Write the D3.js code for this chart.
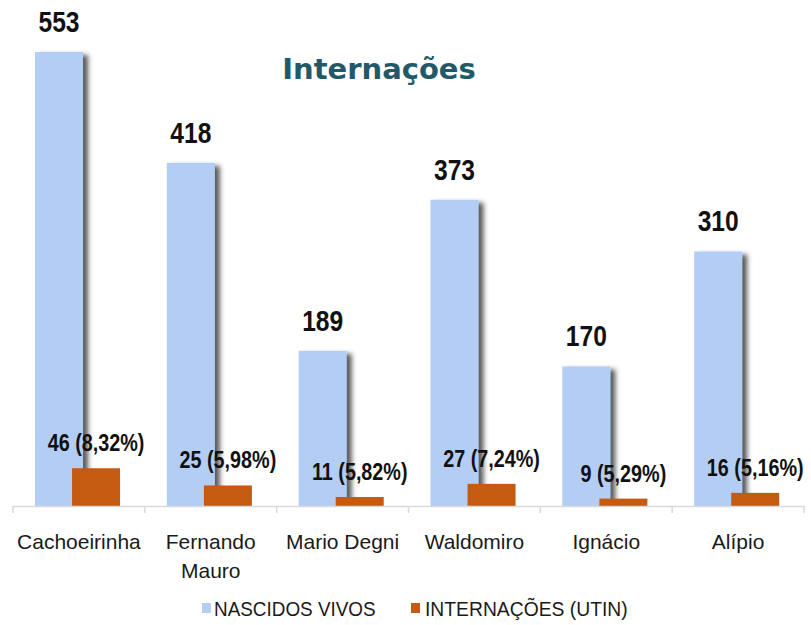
<!DOCTYPE html>
<html>
<head>
<meta charset="utf-8">
<script src="https://cdn.jsdelivr.net/npm/d3@7"></script>
<style>
  body { margin: 0; background: #fff; }
  svg { display: block; }
</style>
</head>
<body>
<div id="chart"></div>
<script>
const categories = ["Cachoeirinha", "Fernando Mauro", "Mario Degni", "Waldomiro", "Ignácio", "Alípio"];
const nascidos = [553, 418, 189, 373, 170, 310];
const internacoes = [46, 25, 11, 27, 9, 16];
const seriesNames = ["NASCIDOS VIVOS", "INTERNAÇÕES (UTIN)"];

const w = 811;
const h = 625;

const blue = "#b3cdf5";
const orange = "#c55a11";
const arial = "'Liberation Sans', Arial, sans-serif";

const svg = d3.select("#chart")
  .append("svg")
  .attr("width", w)
  .attr("height", h);

// soft shadow on the blue bars
const defs = svg.append("defs");
const f = defs.append("filter").attr("id", "shadow")
  .attr("x", "-20%").attr("y", "-5%").attr("width", "160%").attr("height", "110%");
f.append("feDropShadow")
  .attr("dx", 5).attr("dy", 3).attr("stdDeviation", 2.5)
  .attr("flood-color", "#333").attr("flood-opacity", 0.8);

const x = d3.scaleBand()
  .domain(categories)
  .range([13, 804])
  .padding(0);

const y = d3.scaleLinear()
  .domain([0, 553])
  .range([506, 52]);

const bw = x.bandwidth();
const barW = bw * 0.364;
const blueOff = bw * 0.167;
const orangeOff = bw * 0.448;

const pctFormat = d3.format(".2f");

const rows = categories.map((c, i) => ({
  cat: c,
  nv: nascidos[i],
  int: internacoes[i],
  pct: pctFormat(internacoes[i] / nascidos[i] * 100).replace(".", ",") + "%"
}));

// blue bars
svg.selectAll(".nv")
  .data(rows)
  .enter()
  .append("rect")
  .attr("class", "nv")
  .attr("x", d => x(d.cat) + blueOff)
  .attr("y", d => y(d.nv))
  .attr("width", barW)
  .attr("height", d => y(0) - y(d.nv))
  .attr("fill", blue)
  .attr("filter", "url(#shadow)");

// white strip to cut the shadow under the baseline
svg.append("rect")
  .attr("x", 0).attr("y", y(0))
  .attr("width", w).attr("height", 8)
  .attr("fill", "#fff");

// orange bars
svg.selectAll(".int")
  .data(rows)
  .enter()
  .append("rect")
  .attr("class", "int")
  .attr("x", d => x(d.cat) + orangeOff)
  .attr("y", d => y(d.int))
  .attr("width", barW)
  .attr("height", d => y(0) - y(d.int))
  .attr("fill", orange);

// axis
const axis = svg.append("g")
  .attr("transform", "translate(0," + y(0) + ")")
  .call(d3.axisBottom(x).tickSize(0).tickFormat(""));
axis.select(".domain").attr("stroke", "#d9d9d9").attr("stroke-width", 1.5);
axis.selectAll(".tick").remove();

const bounds = categories.map(c => x(c)).concat([x.range()[1]]);
svg.selectAll(".sep")
  .data(bounds)
  .enter()
  .append("line")
  .attr("x1", d => d).attr("x2", d => d)
  .attr("y1", y(0)).attr("y2", y(0) + 7)
  .attr("stroke", "#d9d9d9")
  .attr("stroke-width", 1.5);

// category labels, wrapped when wider than the band
const catText = svg.selectAll(".cat")
  .data(rows)
  .enter()
  .append("text")
  .attr("class", "cat")
  .attr("x", d => x(d.cat) + bw / 2)
  .attr("y", 549)
  .attr("text-anchor", "middle")
  .style("font-family", arial)
  .style("font-size", "21px")
  .attr("fill", "#1a1a1a")
  .text(d => d.cat);

catText.each(function(d) {
  const t = d3.select(this);
  if (this.getComputedTextLength() > bw - 4) {
    const words = d.cat.split(" ");
    t.text(null);
    words.forEach((wd, i) => {
      t.append("tspan")
        .attr("x", x(d.cat) + bw / 2)
        .attr("dy", i === 0 ? 0 : 29)
        .text(wd);
    });
  }
});

// value labels, squeezed horizontally to look like a narrow face
svg.selectAll(".nvlab")
  .data(rows)
  .enter()
  .append("text")
  .attr("class", "nvlab")
  .attr("transform", d => "translate(" + (x(d.cat) + blueOff + barW / 2) + "," + (y(d.nv) - 20) + ") scale(0.82,1)")
  .attr("text-anchor", "middle")
  .style("font-family", arial)
  .style("font-weight", "bold")
  .style("font-size", "30px")
  .attr("fill", "#111")
  .text(d => d.nv);

svg.selectAll(".intlab")
  .data(rows)
  .enter()
  .append("text")
  .attr("class", "intlab")
  .attr("transform", d => "translate(" + (x(d.cat) + orangeOff + barW / 2) + "," + (y(d.int) - 17) + ") scale(0.86,1)")
  .attr("text-anchor", "middle")
  .style("font-family", arial)
  .style("font-weight", "bold")
  .style("font-size", "23px")
  .attr("fill", "#111")
  .text(d => d.int + " (" + d.pct + ")");

// title
svg.append("text")
  .attr("x", 379)
  .attr("y", 79)
  .attr("text-anchor", "middle")
  .style("font-family", "'DejaVu Sans', Verdana, sans-serif")
  .style("font-weight", "bold")
  .style("font-size", "29px")
  .attr("fill", "#215968")
  .text("Internações");

// legend
const legend = [
  { name: seriesNames[0], color: blue, sx: 202, tx: 214, k: 0.9 },
  { name: seriesNames[1], color: orange, sx: 411, tx: 425, k: 0.92 }
];
const lg = svg.selectAll(".leg")
  .data(legend)
  .enter()
  .append("g");
lg.append("rect")
  .attr("x", d => d.sx)
  .attr("y", 603)
  .attr("width", 9)
  .attr("height", 10)
  .attr("fill", d => d.color);
lg.append("text")
  .attr("transform", d => "translate(" + d.tx + ",616) scale(" + d.k + ",1)")
  .style("font-family", arial)
  .style("font-size", "21px")
  .attr("fill", "#1a1a1a")
  .text(d => d.name);
</script>
</body>
</html>
